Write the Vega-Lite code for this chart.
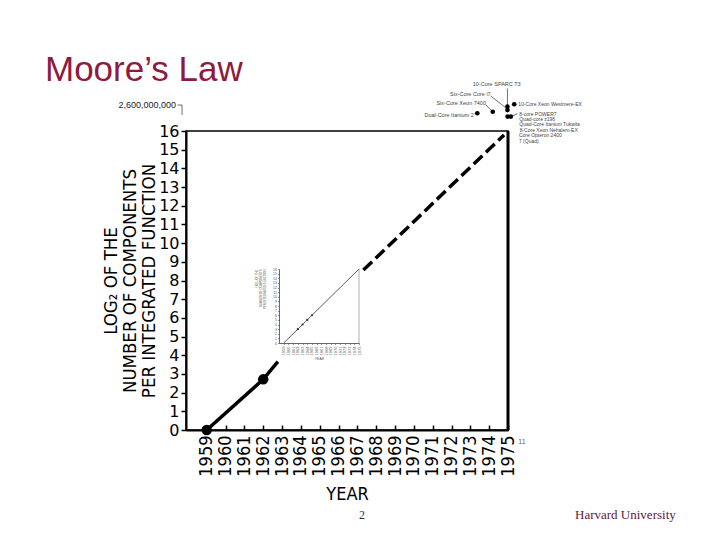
{
  "$schema": "https://vega.github.io/schema/vega-lite/v6.json",
  "width": 322,
  "height": 299,
  "autosize": {"type": "none"},
  "padding": {"left": 186, "top": 131, "right": 212, "bottom": 110},
  "background": "white",
  "title": {"text": "Moore’s Law", "anchor": "start", "frame": "group", "dx": -141, "dy": 34, "offset": 0, "baseline": "alphabetic", "fontSize": 35, "font": "Liberation Sans", "fontWeight": "normal", "color": "#8e1b3f"},
  "config": {"view": {"stroke": "black", "strokeWidth": 1.5}, "axis": {"grid": false}},
  "datasets": {
    "measured": [
      {"year": 1959, "value": 0, "marked": true},
      {"year": 1962, "value": 2.71, "marked": true},
      {"year": 1962.78, "value": 3.66, "marked": false}
    ],
    "extrapolated": [
      {"year": 1967.32, "value": 8.56},
      {"year": 1974.79, "value": 15.79}
    ],
    "border": [{"year": 1975, "value": 0, "value2": 16}],
    "chips": [
      {"name": "10-Core SPARC T3", "year": 1974.97, "value": 17.3},
      {"name": "Six-Core Core i7", "year": 1974.97, "value": 17.12},
      {"name": "10-Core Xeon Westmere-EX", "year": 1975.33, "value": 17.43},
      {"name": "Six-Core Xeon 7400", "year": 1974.19, "value": 17.03},
      {"name": "Dual-Core Itanium 2", "year": 1973.37, "value": 16.95},
      {"name": "8-core POWER7", "year": 1974.98, "value": 16.77},
      {"name": "Quad-core z196", "year": 1975.15, "value": 16.77}
    ],
    "labelsRight": [
      {"label": "Six-Core Core i7", "year": 1974.08, "value": 17.98},
      {"label": "Six-Core Xeon 7400", "year": 1973.83, "value": 17.48},
      {"label": "Dual-Core Itanium 2", "year": 1973.18, "value": 16.86}
    ],
    "labelsLeft": [
      {"label": "10-Core Xeon Westmere-EX", "year": 1975.55, "value": 17.43},
      {"label": "8-core POWER7", "year": 1975.6, "value": 16.93},
      {"label": "Quad-core z196", "year": 1975.6, "value": 16.63},
      {"label": "Quad-Core Itanium Tukwila", "year": 1975.6, "value": 16.35},
      {"label": "8-Core Xeon Nehalem-EX", "year": 1975.62, "value": 16.05},
      {"label": "Core Opteron 2400", "year": 1975.58, "value": 15.76},
      {"label": "7 (Quad)", "year": 1975.58, "value": 15.48}
    ],
    "labelsCenter": [
      {"label": "10-Core SPARC T3", "year": 1974.4, "value": 18.51}
    ],
    "leaders": [
      {"year": 1974.97, "value": 18.28, "year2": 1974.97, "value2": 17.34},
      {"year": 1974.08, "value": 17.87, "year2": 1974.84, "value2": 17.28},
      {"year": 1973.83, "value": 17.39, "year2": 1974.15, "value2": 17.07},
      {"year": 1975.5, "value": 16.93, "year2": 1975.2, "value2": 16.78},
      {"year": 1957.69, "value": 17.39, "year2": 1957.69, "value2": 16.86},
      {"year": 1957.45, "value": 17.39, "year2": 1957.69, "value2": 17.39}
    ],
    "scaleNote": [{"label": "2,600,000,000", "year": 1957.37, "value": 17.39}],
    "footnote": [{"label": "11", "year": 1975.55, "value": -0.65}],
    "pageNumber": [{"label": "2", "year": 1967.25, "value": -4.55}],
    "org": [{"label": "Harvard University", "year": 1978.56, "value": -4.55}],
    "insetCurve": [
      {"year": 1959, "value": 0},
      {"year": 1975, "value": 16}
    ],
    "insetPoints": [
      {"year": 1962, "value": 3},
      {"year": 1963, "value": 4},
      {"year": 1964, "value": 5},
      {"year": 1965, "value": 6}
    ],
    "insetBorder": [{"year": 1975, "value": 0, "value2": 16}]
  },
  "layer": [
    {
      "encoding": {
        "x": {"field": "year", "type": "quantitative", "scale": {"domain": [1957.9, 1975], "nice": false, "zero": false},
          "axis": {"values": [1959,1960,1961,1962,1963,1964,1965,1966,1967,1968,1969,1970,1971,1972,1973,1974,1975], "format": "d", "labelAngle": -90, "labelFont": "DejaVu Sans Condensed, DejaVu Sans", "labelFontSize": 18, "labelColor": "black", "labelPadding": 10, "labelOverlap": false, "labelFlush": false, "labelBound": false, "tickSize": -5, "tickColor": "black", "tickWidth": 1.5, "domainColor": "black", "domainWidth": 2, "title": "YEAR", "titleFont": "DejaVu Sans Condensed, DejaVu Sans", "titleFontSize": 18, "titleFontWeight": "normal", "titleColor": "black", "titlePadding": 9}},
        "y": {"field": "value", "type": "quantitative", "scale": {"domain": [0, 16], "nice": false, "zero": false},
          "axis": {"values": [0,1,2,3,4,5,6,7,8,9,10,11,12,13,14,15,16], "format": "d", "labelFont": "DejaVu Sans", "labelFontSize": 16, "labelColor": "black", "labelPadding": 2, "labelOverlap": false, "labelFlush": false, "labelBound": false, "tickSize": 5, "tickColor": "black", "tickWidth": 1.5, "domainColor": "black", "domainWidth": 2, "title": ["LOG₂ OF THE", "NUMBER OF COMPONENTS", "PER INTEGRATED FUNCTION"], "titleFont": "DejaVu Sans Condensed, DejaVu Sans", "titleFontSize": 18.5, "titleFontWeight": "normal", "titleColor": "black", "titleLineHeight": 19, "titlePadding": 0}}
      },
      "layer": [
        {"data": {"name": "measured"}, "mark": {"type": "line", "color": "black", "strokeWidth": 3.5, "clip": false}},
        {"data": {"name": "measured"}, "transform": [{"filter": "datum.marked"}], "mark": {"type": "circle", "color": "black", "opacity": 1, "size": 110}},
        {"data": {"name": "extrapolated"}, "mark": {"type": "line", "color": "black", "strokeWidth": 3.5, "strokeDash": [12, 5]}},
        {"data": {"name": "border"}, "mark": {"type": "rule", "color": "black", "strokeWidth": 3}, "encoding": {"y2": {"field": "value2"}}},
        {"data": {"name": "leaders"}, "mark": {"type": "rule", "color": "#333", "strokeWidth": 0.7}, "encoding": {"x2": {"field": "year2"}, "y2": {"field": "value2"}}},
        {"data": {"name": "chips"}, "mark": {"type": "circle", "color": "black", "opacity": 1, "size": 22}},
        {"data": {"name": "labelsRight"}, "mark": {"type": "text", "align": "right", "baseline": "middle", "fontSize": 5.5, "font": "Liberation Sans", "color": "#444"}, "encoding": {"text": {"field": "label"}}},
        {"data": {"name": "labelsLeft"}, "mark": {"type": "text", "align": "left", "baseline": "middle", "fontSize": 5, "font": "Liberation Sans", "color": "#444"}, "encoding": {"text": {"field": "label"}}},
        {"data": {"name": "labelsCenter"}, "mark": {"type": "text", "align": "center", "baseline": "middle", "fontSize": 5.5, "font": "Liberation Sans", "color": "#444"}, "encoding": {"text": {"field": "label"}}},
        {"data": {"name": "scaleNote"}, "mark": {"type": "text", "align": "right", "baseline": "middle", "fontSize": 9, "font": "Liberation Sans", "color": "#222"}, "encoding": {"text": {"field": "label"}}},
        {"data": {"name": "footnote"}, "mark": {"type": "text", "align": "left", "baseline": "middle", "fontSize": 7, "font": "Liberation Sans", "color": "#666"}, "encoding": {"text": {"field": "label"}}},
        {"data": {"name": "pageNumber"}, "mark": {"type": "text", "align": "center", "baseline": "middle", "fontSize": 12, "font": "Liberation Serif", "color": "#333"}, "encoding": {"text": {"field": "label"}}},
        {"data": {"name": "org"}, "mark": {"type": "text", "align": "left", "baseline": "middle", "fontSize": 13, "font": "Liberation Serif", "color": "#5e1a38"}, "encoding": {"text": {"field": "label"}}}
      ]
    },
    {
      "encoding": {
        "x": {"field": "year", "type": "quantitative", "scale": {"domain": [1958, 1975], "range": [93, 173], "nice": false, "zero": false},
          "axis": {"orient": "bottom", "offset": -87, "values": [1959,1960,1961,1962,1963,1964,1965,1966,1967,1968,1969,1970,1971,1972,1973,1974,1975], "format": "d", "labelAngle": -90, "labelFontSize": 4, "labelColor": "#555", "labelPadding": 1.5, "labelOverlap": false, "labelFlush": false, "labelBound": false, "tickSize": 1.5, "tickColor": "#555", "tickWidth": 0.6, "domainColor": "#444", "domainWidth": 0.8, "title": "YEAR", "titleFontSize": 3.5, "titleFontWeight": "normal", "titleColor": "#555", "titlePadding": 1.5}},
        "y": {"field": "value", "type": "quantitative", "scale": {"domain": [0, 16], "range": [212, 138], "nice": false, "zero": false},
          "axis": {"orient": "left", "offset": -93, "values": [0,1,2,3,4,5,6,7,8,9,10,11,12,13,14,15,16], "format": "d", "labelFontSize": 3.5, "labelColor": "#555", "labelPadding": 1, "labelOverlap": false, "labelFlush": false, "labelBound": false, "tickSize": 1.5, "tickColor": "#555", "tickWidth": 0.6, "domainColor": "#444", "domainWidth": 0.8, "title": ["LOG₂ OF THE", "NUMBER OF COMPONENTS", "PER INTEGRATED FUNCTION"], "titleFontSize": 2.8, "titleFontWeight": "normal", "titleColor": "#555", "titleLineHeight": 4, "titlePadding": 6, "titleAnchor": "end"}}
      },
      "layer": [
        {"data": {"name": "insetCurve"}, "mark": {"type": "line", "color": "#333", "strokeWidth": 0.8}},
        {"data": {"name": "insetPoints"}, "mark": {"type": "circle", "color": "#333", "opacity": 1, "size": 5}},
        {"data": {"name": "insetBorder"}, "mark": {"type": "rule", "color": "#777", "strokeWidth": 0.6}, "encoding": {"y2": {"field": "value2"}}}
      ]
    }
  ],
  "resolve": {"scale": {"x": "independent", "y": "independent"}, "axis": {"x": "independent", "y": "independent"}}
}
